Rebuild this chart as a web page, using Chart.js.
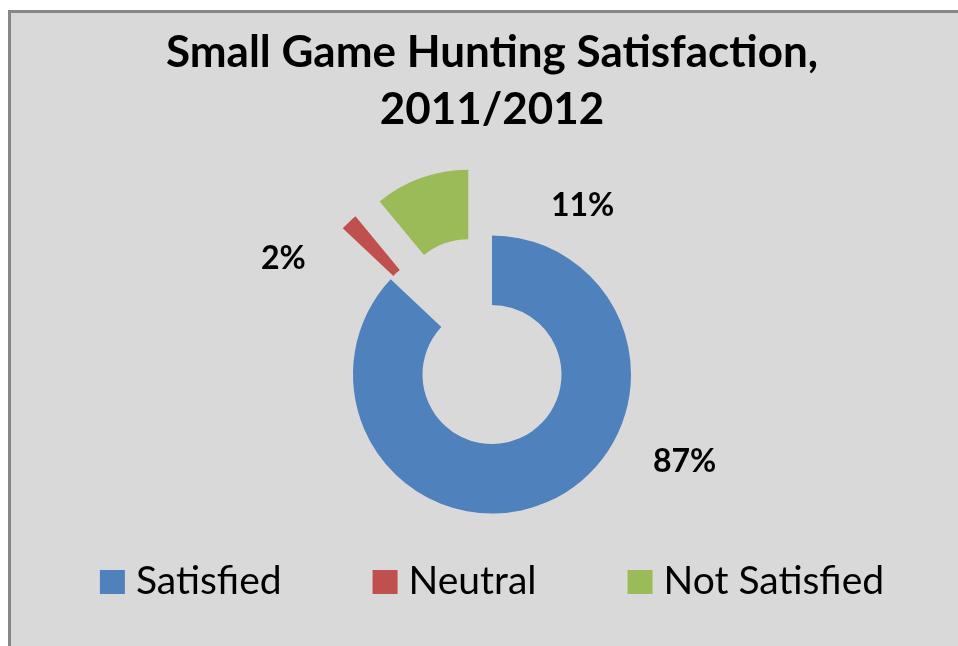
<!DOCTYPE html>
<html>
<head>
<meta charset="utf-8">
<title>Small Game Hunting Satisfaction, 2011/2012</title>
<script src="https://cdn.jsdelivr.net/npm/chart.js@4.4.1/dist/chart.umd.min.js"></script>
<style>
  html, body { margin: 0; padding: 0; background: #fff; overflow: hidden; }
  #frame {
    position: absolute; left: 8px; top: 10px; width: 1000px; height: 700px;
    box-sizing: border-box; background: #d9d9d9;
    border-left: 3px solid #878787; border-top: 3px solid #878787;
  }
  #wrap { position: absolute; left: 0; top: 0; width: 958px; height: 646px; }
</style>
</head>
<body>
<div id="frame"></div>
<div id="wrap"><canvas id="chart"></canvas></div>
<script>
const categories = ['Satisfied', 'Neutral', 'Not Satisfied'];
const shares = [87, 2, 11];
const titleLines = ['Small Game Hunting Satisfaction,', '2011/2012'];

const sliceColors = ['#4f81bd', '#c0504d', '#9bbb59'];
const explode = [0, 70, 70];
// label anchor, in units of the outer radius from the ring centre
const labelPlacement = [[1.386, 0.629], [-1.501, -0.833], [0.652, -1.215]];

// doughnut whose slices can be pulled out along their mid angle
class ExplodedDoughnutController extends Chart.DoughnutController {
  draw() {
    const ctx = this.chart.ctx;
    const area = this.chart.chartArea;
    this._cachedMeta.data.forEach((arc, i) => {
      const d = explode[i] || 0;
      const mid = (arc.startAngle + arc.endAngle) / 2;
      ctx.save();
      ctx.translate(Math.cos(mid) * d, Math.sin(mid) * d);
      arc.draw(ctx, area);
      ctx.restore();
    });
  }
}
ExplodedDoughnutController.id = 'explodedDoughnut';
ExplodedDoughnutController.defaults = Chart.DoughnutController.defaults;
ExplodedDoughnutController.overrides = Chart.DoughnutController.overrides;
Chart.register(ExplodedDoughnutController);

const sliceLabels = {
  id: 'sliceLabels',
  afterDatasetsDraw(chart) {
    const ctx = chart.ctx;
    const meta = chart.getDatasetMeta(0);
    ctx.save();
    ctx.font = 'bold 32px Lato';
    ctx.fillStyle = '#000';
    ctx.textAlign = 'center';
    ctx.textBaseline = 'middle';
    meta.data.forEach((arc, i) => {
      const [fx, fy] = labelPlacement[i];
      ctx.fillText(shares[i] + '%', arc.x + fx * arc.outerRadius, arc.y + fy * arc.outerRadius);
    });
    ctx.restore();
  }
};

const legendRow = {
  id: 'legendRow',
  afterDraw(chart) {
    const ctx = chart.ctx;
    const boxW = 25, boxH = 24, gap = 11, itemGap = 91, y = 581;
    ctx.save();
    ctx.font = '39px Lato';
    ctx.textBaseline = 'middle';
    const widths = categories.map(c => ctx.measureText(c).width);
    const total = widths.reduce((s, w) => s + boxW + gap + w, 0) + itemGap * (categories.length - 1);
    let x = (chart.chartArea.left + chart.chartArea.right) / 2 - total / 2;
    categories.forEach((c, i) => {
      ctx.fillStyle = sliceColors[i];
      ctx.fillRect(x, y + 1 - boxH / 2, boxW, boxH);
      ctx.fillStyle = '#000';
      ctx.fillText(c, x + boxW + gap, y);
      x += boxW + gap + widths[i] + itemGap;
    });
    ctx.restore();
  }
};

document.fonts.load('bold 44px Lato').then(() => document.fonts.load('39px Lato')).finally(() => {
  new Chart(document.getElementById('chart'), {
    type: 'explodedDoughnut',
    data: {
      labels: categories,
      datasets: [{
        data: shares,
        backgroundColor: sliceColors,
        borderWidth: 0,
      }],
    },
    options: {
      responsive: true,
      maintainAspectRatio: false,
      animation: false,
      cutout: '50%',
      radius: 139,
      layout: { padding: { left: 26, right: 0, top: 0, bottom: 45 } },
      plugins: {
        legend: { display: false },
        tooltip: { enabled: false },
        title: {
          display: true,
          text: titleLines,
          color: '#000',
          font: { family: 'Lato', size: 44, weight: 'bold', lineHeight: 57 / 44 },
          padding: { top: 24, bottom: 10 },
        },
      },
    },
    plugins: [sliceLabels, legendRow],
  });
});
</script>
</body>
</html>
